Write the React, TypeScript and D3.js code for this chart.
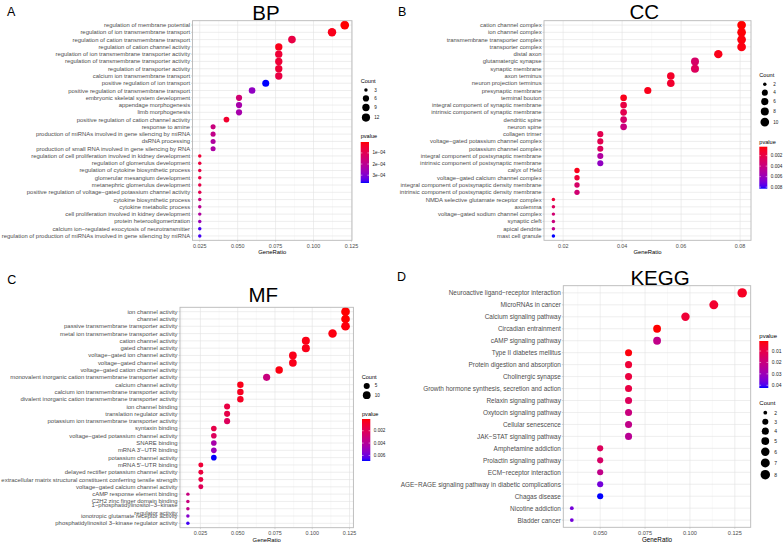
import React from "react";
import * as d3 from "d3";

const FONT = "'Liberation Sans', Arial, Helvetica, sans-serif";

// ---------------- Panel A: BP ----------------
const bpTerms = [
  "regulation of membrane potential",
  "regulation of ion transmembrane transport",
  "regulation of cation transmembrane transport",
  "regulation of cation channel activity",
  "regulation of ion transmembrane transporter activity",
  "regulation of transmembrane transporter activity",
  "regulation of transporter activity",
  "calcium ion transmembrane transport",
  "positive regulation of ion transport",
  "positive regulation of transmembrane transport",
  "embryonic skeletal system development",
  "appendage morphogenesis",
  "limb morphogenesis",
  "positive regulation of cation channel activity",
  "response to amine",
  "production of miRNAs involved in gene silencing by miRNA",
  "dsRNA processing",
  "production of small RNA involved in gene silencing by RNA",
  "regulation of cell proliferation involved in kidney development",
  "regulation of glomerulus development",
  "regulation of cytokine biosynthetic process",
  "glomerular mesangium development",
  "metanephric glomerulus development",
  "positive regulation of voltage−gated potassium channel activity",
  "cytokine biosynthetic process",
  "cytokine metabolic process",
  "cell proliferation involved in kidney development",
  "protein heterooligomerization",
  "calcium ion−regulated exocytosis of neurotransmitter",
  "regulation of production of miRNAs involved in gene silencing by miRNA",
];
const bpRatio = [
  0.1206, 0.1122, 0.0858, 0.0771, 0.0771, 0.0771, 0.0771, 0.0771, 0.0685, 0.0595,
  0.0509, 0.0509, 0.0509, 0.0426, 0.0338, 0.0338, 0.0338, 0.0338, 0.025, 0.025,
  0.025, 0.025, 0.025, 0.025, 0.025, 0.025, 0.025, 0.025, 0.025, 0.025,
];
const bpCount = [14, 13, 10, 9, 9, 9, 9, 9, 8, 7, 6, 6, 6, 5, 4, 4, 4, 4, 3, 3, 3, 3, 3, 3, 3, 3, 3, 3, 3, 3];
const bpPvalue = [
  2.0e-6, 2.0e-5, 7.6e-5, 2.0e-5, 5.7e-5, 5.7e-5, 5.7e-5, 7.6e-5, 3.7e-4, 2.78e-4,
  1.49e-4, 2.41e-4, 2.41e-4, 4.6e-5, 1.68e-4, 1.86e-4, 2.23e-4, 2.3e-4, 5.7e-5, 6.8e-5,
  7.6e-5, 7.6e-5, 8.3e-5, 9.4e-5, 1.68e-4, 2.04e-4, 2.23e-4, 2.6e-4, 3.52e-4, 3.52e-4,
];
const bpXTicks = [0.025, 0.05, 0.075, 0.1, 0.125];
const bpXTickLabels = ["0.025", "0.050", "0.075", "0.100", "0.125"];
const bpCountBreaks = [3, 6, 9, 12];
const bpPBreaks = [1e-4, 2e-4, 3e-4];
const bpPLabels = ["1e−04", "2e−04", "3e−04"];

// ---------------- Panel B: CC ----------------
const ccTerms = [
  "cation channel complex",
  "ion channel complex",
  "transmembrane transporter complex",
  "transporter complex",
  "distal axon",
  "glutamatergic synapse",
  "synaptic membrane",
  "axon terminus",
  "neuron projection terminus",
  "presynaptic membrane",
  "terminal bouton",
  "integral component of synaptic membrane",
  "intrinsic component of synaptic membrane",
  "dendritic spine",
  "neuron spine",
  "collagen trimer",
  "voltage−gated potassium channel complex",
  "potassium channel complex",
  "integral component of postsynaptic membrane",
  "intrinsic component of postsynaptic membrane",
  "calyx of Held",
  "voltage−gated calcium channel complex",
  "integral component of postsynaptic density membrane",
  "intrinsic component of postsynaptic density membrane",
  "NMDA selective glutamate receptor complex",
  "axolemma",
  "voltage−gated sodium channel complex",
  "synaptic cleft",
  "apical dendrite",
  "mast cell granule",
];
const ccRatio = [
  0.0805, 0.0805, 0.0805, 0.0805, 0.0726, 0.0647, 0.0647, 0.0565, 0.0565, 0.0487,
  0.0405, 0.0405, 0.0405, 0.0405, 0.0405, 0.0326, 0.0326, 0.0326, 0.0326, 0.0326,
  0.0247, 0.0247, 0.0247, 0.0247, 0.0167, 0.0167, 0.0167, 0.0167, 0.0167, 0.0167,
];
const ccCount = [10, 10, 10, 10, 9, 8, 8, 7, 7, 6, 5, 5, 5, 5, 5, 4, 4, 4, 4, 4, 3, 3, 3, 3, 2, 2, 2, 2, 2, 2];
const ccPvalue = [
  0.0003, 0.00038, 0.00046, 0.00054, 0.0007, 0.0031, 0.0027, 0.0011, 0.00126, 0.0007,
  0.0007, 0.0019, 0.0023, 0.0031, 0.0039, 0.0023, 0.0023, 0.0027, 0.0051, 0.0063,
  0.0007, 0.0015, 0.0031, 0.0035, 0.0015, 0.0027, 0.0035, 0.0039, 0.0043, 0.0083,
];
const ccXTicks = [0.02, 0.04, 0.06, 0.08];
const ccXTickLabels = ["0.02", "0.04", "0.06", "0.08"];
const ccCountBreaks = [2, 4, 6, 8, 10];
const ccPBreaks = [0.002, 0.004, 0.006, 0.008];
const ccPLabels = ["0.002", "0.004", "0.006", "0.008"];

// ---------------- Panel C: MF ----------------
const mfTerms = [
  "ion channel activity",
  "channel activity",
  "passive transmembrane transporter activity",
  "metal ion transmembrane transporter activity",
  "cation channel activity",
  "gated channel activity",
  "voltage−gated ion channel activity",
  "voltage−gated channel activity",
  "voltage−gated cation channel activity",
  "monovalent inorganic cation transmembrane transporter activity",
  "calcium channel activity",
  "calcium ion transmembrane transporter activity",
  "divalent inorganic cation transmembrane transporter activity",
  "ion channel binding",
  "translation regulator activity",
  "potassium ion transmembrane transporter activity",
  "syntaxin binding",
  "voltage−gated potassium channel activity",
  "SNARE binding",
  "mRNA 3'−UTR binding",
  "potassium channel activity",
  "mRNA 5'−UTR binding",
  "delayed rectifier potassium channel activity",
  "extracellular matrix structural constituent conferring tensile strength",
  "voltage−gated calcium channel activity",
  "cAMP response element binding",
  "C2H2 zinc finger domain binding",
  "1−phosphatidylinositol−3−kinase\nregulator activity",
  "ionotropic glutamate receptor activity",
  "phosphatidylinositol 3−kinase regulator activity",
];
const mfRatio = [
  0.1223, 0.1223, 0.1223, 0.1136, 0.0957, 0.0957, 0.087, 0.087, 0.0778, 0.0694,
  0.0518, 0.0518, 0.0518, 0.0429, 0.0429, 0.0429, 0.034, 0.034, 0.034, 0.034,
  0.034, 0.0253, 0.0253, 0.0253, 0.0253, 0.0166, 0.0166, 0.0166, 0.0166, 0.0166,
];
const mfCount = [14, 14, 14, 13, 11, 11, 10, 10, 9, 8, 6, 6, 6, 5, 5, 5, 4, 4, 4, 4, 4, 3, 3, 3, 3, 2, 2, 2, 2, 2];
const mfPvalue = [
  0.0001, 0.0001, 0.00024, 0.0003, 0.00037, 0.00044, 0.00044, 0.00044, 0.0003, 0.0032,
  0.00044, 0.00058, 0.00064, 0.00146, 0.0016, 0.00214, 0.0016, 0.00214, 0.0045, 0.0049,
  0.0069, 0.00112, 0.00132, 0.00146, 0.002, 0.0032, 0.0032, 0.0035, 0.0055, 0.0066,
];
const mfXTicks = [0.025, 0.05, 0.075, 0.1, 0.125];
const mfXTickLabels = ["0.025", "0.050", "0.075", "0.100", "0.125"];
const mfCountBreaks = [5, 10];
const mfPBreaks = [0.002, 0.004, 0.006];
const mfPLabels = ["0.002", "0.004", "0.006"];

// ---------------- Panel D: KEGG ----------------
const keggTerms = [
  "Neuroactive ligand−receptor interaction",
  "MicroRNAs in cancer",
  "Calcium signaling pathway",
  "Circadian entrainment",
  "cAMP signaling pathway",
  "Type II diabetes mellitus",
  "Protein digestion and absorption",
  "Cholinergic synapse",
  "Growth hormone synthesis, secretion and action",
  "Relaxin signaling pathway",
  "Oxytocin signaling pathway",
  "Cellular senescence",
  "JAK−STAT signaling pathway",
  "Amphetamine addiction",
  "Prolactin signaling pathway",
  "ECM−receptor interaction",
  "AGE−RAGE signaling pathway in diabetic complications",
  "Chagas disease",
  "Nicotine addiction",
  "Bladder cancer",
];
const keggRatio = [
  0.1291, 0.1133, 0.0975, 0.0817, 0.0817, 0.0658, 0.0658, 0.0658, 0.0658, 0.0658,
  0.0658, 0.0658, 0.0658, 0.05, 0.05, 0.05, 0.05, 0.05, 0.0342, 0.0342,
];
const keggCount = [8, 7, 6, 5, 5, 4, 4, 4, 4, 4, 4, 4, 4, 3, 3, 3, 3, 3, 2, 2];
const keggPvalue = [
  0.0045, 0.0061, 0.0074, 0.0012, 0.0218, 0.002, 0.0074, 0.0086, 0.0094, 0.0136,
  0.0197, 0.0218, 0.0239, 0.0136, 0.0156, 0.0218, 0.0362, 0.0424, 0.0362, 0.0362,
];
const keggXTicks = [0.05, 0.075, 0.1, 0.125];
const keggXTickLabels = ["0.050", "0.075", "0.100", "0.125"];
const keggCountBreaks = [2, 3, 4, 5, 6, 7, 8];
const keggPBreaks = [0.01, 0.02, 0.03, 0.04];
const keggPLabels = ["0.01", "0.02", "0.03", "0.04"];

// ---------------- layout (positions / styles) ----------------
const panels = [
  {
    id: "A", letter: "A", letterPos: [7, 15.8], title: "BP", titlePos: [266, 19.5],
    terms: bpTerms, ratio: bpRatio, count: bpCount, pvalue: bpPvalue,
    xTicks: bpXTicks, xTickLabels: bpXTickLabels, countBreaks: bpCountBreaks,
    pBreaks: bpPBreaks, pLabels: bpPLabels,
    box: { x0: 192.5, x1: 352, y0: 20.7, y1: 240.3 },
    k: 0.367, keyBase: 8.3, keyPad: 2.3, ySize: 5.9, tickSize: 5.4, axisSize: 5.9, legTitle: 5.6, legText: 4.6,
    countLeg: { x: 360.7, titleY: 80.7, startY: 85.85 },
    pLeg: { x: 360.7, titleY: 136, top: 142, bottom: 183, w: 8.3 },
  },
  {
    id: "B", letter: "B", letterPos: [398, 15.5], title: "CC", titlePos: [644.3, 19.2],
    terms: ccTerms, ratio: ccRatio, count: ccCount, pvalue: ccPvalue,
    xTicks: ccXTicks, xTickLabels: ccXTickLabels, countBreaks: ccCountBreaks,
    pBreaks: ccPBreaks, pLabels: ccPLabels,
    box: { x0: 544, x1: 751, y0: 20.7, y1: 240.3 },
    k: 0.367, keyBase: 8.3, keyPad: 2.3, ySize: 5.9, tickSize: 5.4, axisSize: 5.9, legTitle: 5.6, legText: 4.6,
    countLeg: { x: 759.3, titleY: 75.3, startY: 80.15 },
    pLeg: { x: 759.3, titleY: 141.7, top: 146.7, bottom: 188.7, w: 8 },
  },
  {
    id: "C", letter: "C", letterPos: [7.3, 283.8], title: "MF", titlePos: [263.3, 301.7],
    terms: mfTerms, ratio: mfRatio, count: mfCount, pvalue: mfPvalue,
    xTicks: mfXTicks, xTickLabels: mfXTickLabels, countBreaks: mfCountBreaks,
    pBreaks: mfPBreaks, pLabels: mfPLabels,
    box: { x0: 180, x1: 353.4, y0: 307.3, y1: 527.7 },
    k: 0.367, keyBase: 8.3, keyPad: 2.3, ySize: 5.95, tickSize: 5.4, axisSize: 5.9, legTitle: 5.6, legText: 4.6,
    countLeg: { x: 361.7, titleY: 376.7, startY: 381.8 },
    pLeg: { x: 362, titleY: 414, top: 419, bottom: 461, w: 8.3 },
  },
  {
    id: "D", letter: "D", letterPos: [397, 280.5], title: "KEGG", titlePos: [660, 284.5],
    terms: keggTerms, ratio: keggRatio, count: keggCount, pvalue: keggPvalue,
    xTicks: keggXTicks, xTickLabels: keggXTickLabels, countBreaks: keggCountBreaks,
    pBreaks: keggPBreaks, pLabels: keggPLabels,
    box: { x0: 563.3, x1: 750.7, y0: 285.7, y1: 527.3 },
    k: 0.4, keyBase: 9.1, keyPad: 2.5, ySize: 6.45, tickSize: 5.6, axisSize: 6.3, legTitle: 6.0, legText: 5.0,
    countLeg: { x: 759.3, titleY: 402.7, startY: 408.15 },
    pLeg: { x: 759.3, titleY: 336, top: 341, bottom: 388, w: 9 },
  },
];

function diameter(c: number, cMin: number, cMax: number, k: number) {
  const t = cMax === cMin ? 1 : Math.max(0, Math.min(1, (c - cMin) / (cMax - cMin)));
  const s = 3 + 5 * Math.sqrt(t);
  return k * (2.845 * s + 0.945);
}

function DotPanel({ c }: { c: any }) {
  const b = c.box;
  const [rMin, rMax] = d3.extent(c.ratio as number[]) as [number, number];
  const pad = (rMax - rMin) * 0.05;
  const x = d3.scaleLinear().domain([rMin - pad, rMax + pad]).range([b.x0, b.x1]);
  const y = d3.scalePoint<string>().domain(c.terms).range([b.y0, b.y1]).padding(0.6);
  const [pMin, pMax] = d3.extent(c.pvalue as number[]) as [number, number];
  const color = d3
    .scaleLinear<string>()
    .domain([pMin, pMax])
    .range(["#ff0000", "#0000ff"])
    .interpolate(d3.interpolateLab);
  const [cMin, cMax] = d3.extent(c.count as number[]) as [number, number];
  const diam = (v: number) => diameter(v, cMin, cMax, c.k);
  const [d0, d1] = x.domain();
  const step = c.xTicks[1] - c.xTicks[0];
  const minor: number[] = [];
  for (let i = -1; i < c.xTicks.length; i++) {
    const m = i < 0 ? c.xTicks[0] - step / 2 : c.xTicks[i] + step / 2;
    if (m > d0 && m < d1) minor.push(m);
  }
  const major = (c.xTicks as number[]).map((t, i) => ({ t, label: c.xTickLabels[i] })).filter((o) => o.t >= d0 && o.t <= d1);

  // count legend keys
  const maxW = Math.max(...c.countBreaks.map((v: number) => Math.max(c.keyBase, diam(v) + c.keyPad)));
  let yy = c.countLeg.startY;
  const keys = c.countBreaks.map((v: number) => {
    const h = Math.max(c.keyBase, diam(v) + c.keyPad);
    const cy = yy + h / 2;
    yy += h;
    return { v, cy, d: diam(v) };
  });

  const pl = c.pLeg;
  const pY = d3.scaleLinear().domain([pMin, pMax]).range([pl.top, pl.bottom]);
  const gradId = "grad" + c.id;
  const stops = d3.range(0, 21).map((i) => i / 20);

  return (
    <g>
      <text x={c.letterPos[0]} y={c.letterPos[1]} fontSize={12.5} fontFamily={FONT} fill="#000">
        {c.letter}
      </text>
      <text x={c.titlePos[0]} y={c.titlePos[1]} fontSize={20.5} fontFamily={FONT} textAnchor="middle" fill="#000">
        {c.title}
      </text>
      <rect x={b.x0} y={b.y0} width={b.x1 - b.x0} height={b.y1 - b.y0} fill="#fff" />
      {minor.map((m, i) => (
        <line key={"mi" + i} x1={x(m)} x2={x(m)} y1={b.y0} y2={b.y1} stroke="#efefef" strokeWidth={0.4} />
      ))}
      {major.map((o, i) => (
        <line key={"ma" + i} x1={x(o.t)} x2={x(o.t)} y1={b.y0} y2={b.y1} stroke="#e2e2e2" strokeWidth={0.6} />
      ))}
      {c.terms.map((t: string, i: number) => (
        <line key={"h" + i} x1={b.x0} x2={b.x1} y1={y(t)} y2={y(t)} stroke="#e2e2e2" strokeWidth={0.6} />
      ))}
      {c.terms.map((t: string, i: number) => (
        <circle key={"p" + i} cx={x(c.ratio[i])} cy={y(t)} r={diam(c.count[i]) / 2} fill={color(c.pvalue[i])} />
      ))}
      <rect x={b.x0} y={b.y0} width={b.x1 - b.x0} height={b.y1 - b.y0} fill="none" stroke="#b8b8b8" strokeWidth={0.9} />
      {c.terms.map((t: string, i: number) => {
        const lines = t.split("\n");
        const yc = y(t) as number;
        return (
          <g key={"yl" + i}>
            <line x1={b.x0 - 1.5} x2={b.x0} y1={yc} y2={yc} stroke="#b3b3b3" strokeWidth={0.5} />
            {lines.map((ln, j) => (
              <text
                key={j}
                x={b.x0 - 2.4}
                y={yc + (j - (lines.length - 1) / 2) * 8.2}
                fontSize={c.ySize}
                fontFamily={FONT}
                fill="#4d4d4d"
                textAnchor="end"
                dominantBaseline="central"
              >
                {ln}
              </text>
            ))}
          </g>
        );
      })}
      {major.map((o, i) => (
        <g key={"xt" + i}>
          <line x1={x(o.t)} x2={x(o.t)} y1={b.y1} y2={b.y1 + 1.5} stroke="#b3b3b3" strokeWidth={0.5} />
          <text x={x(o.t)} y={b.y1 + 5.3} fontSize={c.tickSize} fontFamily={FONT} fill="#4d4d4d" textAnchor="middle" dominantBaseline="central">
            {o.label}
          </text>
        </g>
      ))}
      <text x={(b.x0 + b.x1) / 2} y={b.y1 + 12} fontSize={c.axisSize} fontFamily={FONT} fill="#000" textAnchor="middle" dominantBaseline="central">
        GeneRatio
      </text>

      {/* Count legend */}
      <text x={c.countLeg.x} y={c.countLeg.titleY} fontSize={c.legTitle} fontFamily={FONT} fill="#000" dominantBaseline="central">
        Count
      </text>
      {keys.map((kk: any, i: number) => (
        <g key={"ck" + i}>
          <circle cx={c.countLeg.x + maxW / 2} cy={kk.cy} r={kk.d / 2} fill="#000" />
          <text x={c.countLeg.x + maxW + 3} y={kk.cy} fontSize={c.legText} fontFamily={FONT} fill="#222" dominantBaseline="central">
            {kk.v}
          </text>
        </g>
      ))}

      {/* pvalue colorbar */}
      <defs>
        <linearGradient id={gradId} x1="0" y1="0" x2="0" y2="1">
          {stops.map((s) => (
            <stop key={s} offset={s} stopColor={color(pMin + s * (pMax - pMin))} />
          ))}
        </linearGradient>
      </defs>
      <text x={pl.x} y={pl.titleY} fontSize={c.legTitle} fontFamily={FONT} fill="#000" dominantBaseline="central">
        pvalue
      </text>
      <rect x={pl.x} y={pl.top} width={pl.w} height={pl.bottom - pl.top} fill={`url(#${gradId})`} />
      {c.pBreaks.map((v: number, i: number) => (
        <g key={"pb" + i}>
          <line x1={pl.x} x2={pl.x + pl.w / 5} y1={pY(v)} y2={pY(v)} stroke="#fff" strokeWidth={0.5} />
          <line x1={pl.x + pl.w - pl.w / 5} x2={pl.x + pl.w} y1={pY(v)} y2={pY(v)} stroke="#fff" strokeWidth={0.5} />
          <text x={pl.x + pl.w + 3.5} y={pY(v)} fontSize={c.legText} fontFamily={FONT} fill="#222" dominantBaseline="central">
            {c.pLabels[i]}
          </text>
        </g>
      ))}
    </g>
  );
}

export default function App() {
  return (
    <svg
      width={784}
      height={546}
      viewBox="0 0 784 546"
      style={{ position: "absolute", left: 0, top: 0, background: "#fff" }}
    >
      <rect x={0} y={0} width={784} height={546} fill="#fff" />
      {panels.map((p) => (
        <DotPanel key={p.id} c={p} />
      ))}
    </svg>
  );
}
